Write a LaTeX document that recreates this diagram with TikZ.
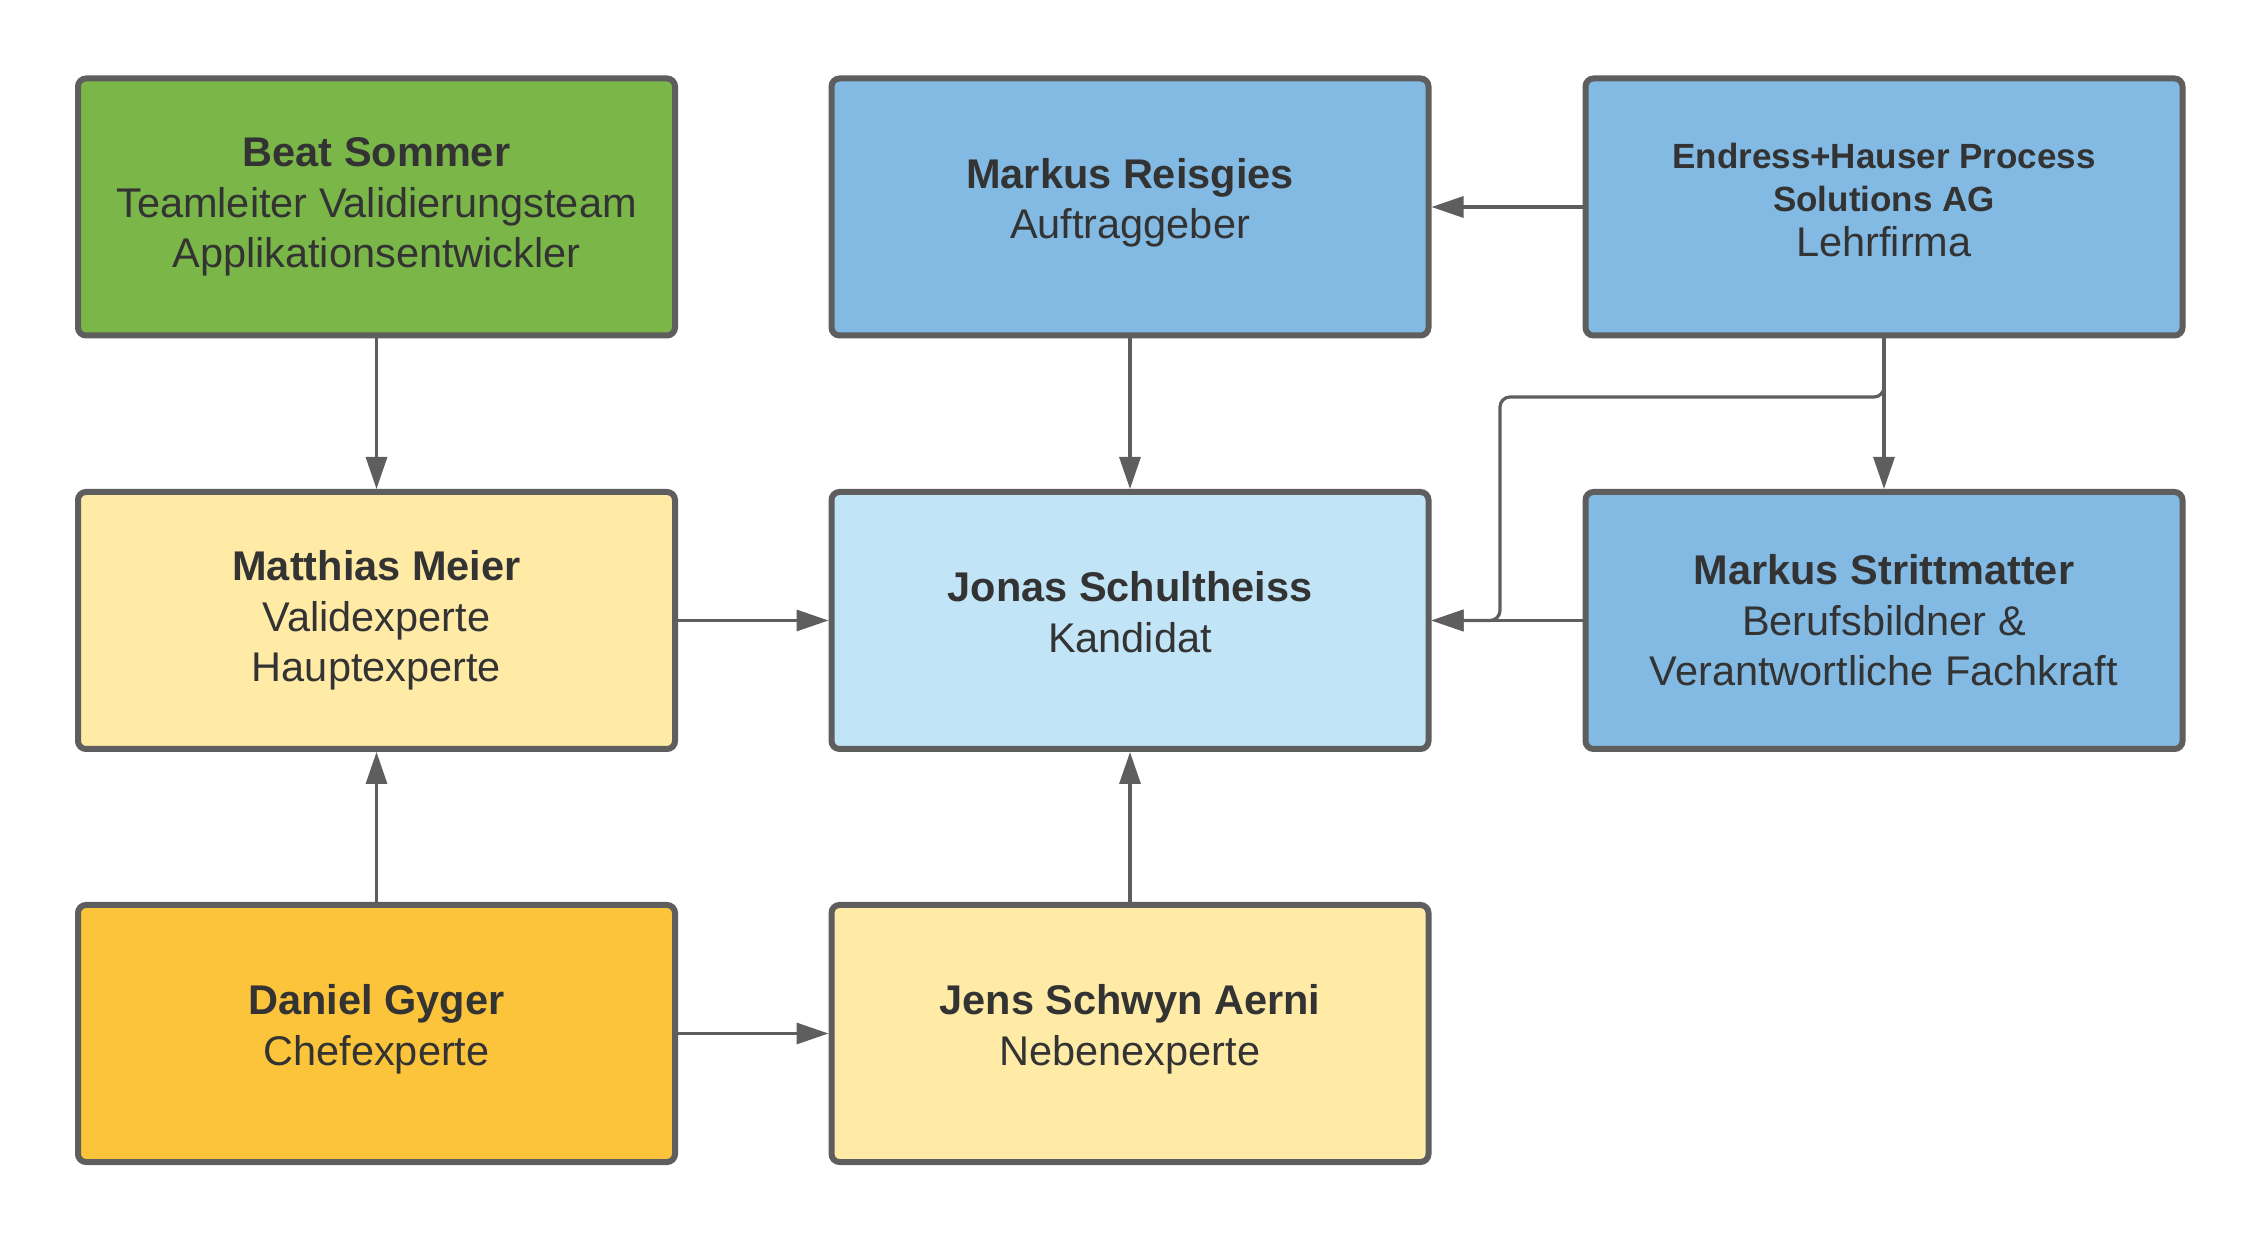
\documentclass[tikz,border=0pt]{standalone}
\usepackage{fontspec}
\setmainfont{Liberation Sans}
\usetikzlibrary{arrows.meta}
\definecolor{edge}{HTML}{5E5E5E}
\definecolor{txt}{HTML}{333333}
\definecolor{cgreen}{HTML}{7AB648}
\definecolor{cblue}{HTML}{83BAE4}
\definecolor{clblue}{HTML}{C1E4F7}
\definecolor{cyellow}{HTML}{FFEBA6}
\definecolor{corange}{HTML}{FCC43A}
\tikzset{
  box/.style={draw=edge, line width=3pt, rounded corners=4pt, minimum width=298.5pt, minimum height=128.5pt,
    align=center, text=txt, font=\fontsize{20.75pt}{25.2pt}\selectfont, inner sep=0pt},
  conn/.style={draw=edge, line width=1.6pt, -{Triangle[length=16pt,width=10.5pt]}}
}
\newcommand{\smallbold}[1]{{\fontsize{17.5pt}{21pt}\selectfont\textbf{#1}}}
\begin{document}
\begin{tikzpicture}[x=1pt,y=1pt]
\useasboundingbox (0,0) rectangle (1125,-617);
\node[box, fill=cgreen] (beat) at (188.25,-103.5) {\textbf{Beat Sommer}\\Teamleiter Validierungsteam\\Applikationsentwickler};
\node[box, fill=cblue] (reis) at (565,-103.5) {\textbf{Markus Reisgies}\\Auftraggeber\\[-16.5pt]};
\node[box, fill=cblue] (eh) at (942,-103.5) {\smallbold{Endress+Hauser Process}\\[-3.7pt]\smallbold{Solutions AG}\\[-2.7pt]Lehrfirma\\[-17.8pt]};
\node[box, fill=cyellow] (matt) at (188.25,-310.25) {\textbf{Matthias Meier}\\Validexperte\\Hauptexperte};
\node[box, fill=clblue] (jonas) at (565,-310.25) {\textbf{Jonas Schultheiss}\\Kandidat\\[-16.5pt]};
\node[box, fill=cblue] (stritt) at (942,-310.25) {\textbf{Markus Strittmatter}\\Berufsbildner \&\\Verantwortliche Fachkraft};
\node[box, fill=corange] (dan) at (188.25,-516.75) {\textbf{Daniel Gyger}\\Chefexperte\\[-16.5pt]};
\node[box, fill=cyellow] (jens) at (565,-516.75) {\textbf{Jens Schwyn Aerni}\\Nebenexperte\\[-16.5pt]};
\coordinate (c1) at (942,-198.5);
\coordinate (c2) at (750,-198.5);
\coordinate (c3) at (750,-310.25);
\draw[conn] (eh.west) -- (reis.east);
\draw[conn] (reis.south) -- (jonas.north);
\draw[conn] (beat.south) -- (matt.north);
\draw[conn] (matt.east) -- (jonas.west);
\draw[conn] (dan.north) -- (matt.south);
\draw[conn] (dan.east) -- (jens.west);
\draw[conn] (jens.north) -- (jonas.south);
\draw[conn] (stritt.west) -- (jonas.east);
\draw[conn] (eh.south) -- (stritt.north);
\draw[conn, rounded corners=5pt] (eh.south) -- (c1) -- (c2) -- (c3) -- (jonas.east);
\end{tikzpicture}
\end{document}
